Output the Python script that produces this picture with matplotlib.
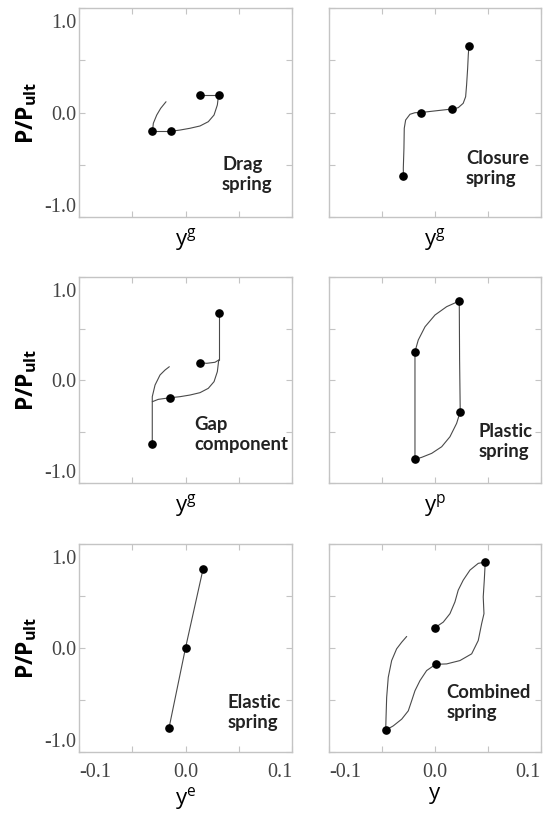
import matplotlib
matplotlib.use('Agg')
import matplotlib.pyplot as plt
import matplotlib.transforms as mtransforms

plt.rcParams['mathtext.fontset'] = 'custom'
plt.rcParams['mathtext.rm'] = 'Open Sans'
plt.rcParams['mathtext.it'] = 'Open Sans'
plt.rcParams['mathtext.bf'] = 'Open Sans:bold'

# ---------------- data ----------------
x_ticks = [-0.1, -0.05, 0.0, 0.05, 0.1]
x_tick_labels = ['-0.1', '', '0.0', '', '0.1']
y_ticks = [-1.0, -0.5, 0.0, 0.5, 1.0]
y_tick_labels = ['-1.0', '', '0.0', '', '1.0']

panel_names = ['Drag\nspring', 'Closure\nspring', 'Gap\ncomponent',
               'Plastic\nspring', 'Elastic\nspring', 'Combined\nspring']
x_labels = [r'$\mathrm{y^g}$', r'$\mathrm{y^g}$', r'$\mathrm{y^g}$',
            r'$\mathrm{y^p}$', r'$\mathrm{y^e}$', r'$\mathrm{y}$']
y_label = r'$\mathbf{P/P_{ult}}$'

# Drag spring
drag_pts_x = [-0.031, -0.014, 0.014, 0.031]
drag_pts_y = [-0.18, -0.18, 0.165, 0.165]
drag_c1_x = [-0.031, -0.014]
drag_c1_y = [-0.18, -0.18]
drag_c2_x = [0.014, 0.031]
drag_c2_y = [0.165, 0.165]
drag_c3_x = [-0.031, -0.0302, -0.027, -0.0233, -0.0183]
drag_c3_y = [-0.18, -0.103, -0.024, 0.040, 0.103]
drag_c4_x = [-0.014, -0.0052, 0.0042, 0.0136, 0.0214, 0.0268, 0.0299, 0.031]
drag_c4_y = [-0.18, -0.168, -0.151, -0.129, -0.088, -0.024, 0.072, 0.165]

# Closure spring
clos_pts_x = [-0.0298, -0.0132, 0.0157, 0.032]
clos_pts_y = [-0.605, 0.0, 0.033, 0.636]
clos_c1_x = [-0.0298, -0.0299, -0.0293, -0.029, -0.0277, -0.0236, -0.0189, -0.0132,
             0.0015, 0.0157, 0.0219, 0.0266, 0.0289, 0.0298, 0.0308, 0.0314, 0.032]
clos_c1_y = [-0.605, -0.534, -0.343, -0.151, -0.072, -0.017, -0.002, 0.0,
             0.017, 0.033, 0.046, 0.088, 0.151, 0.263, 0.423, 0.550, 0.636]

# Gap component
gap_pts_x = [-0.0312, -0.0143, 0.0139, 0.0312]
gap_pts_y = [-0.621, -0.172, 0.168, 0.648]
gap_c1_x = [-0.0312, -0.0312, -0.0312, -0.0286, -0.0239, -0.0192, -0.0152]
gap_c1_y = [-0.621, -0.211, -0.162, -0.049, 0.049, 0.097, 0.129]
gap_c2_x = [-0.0312, -0.0256, -0.0143]
gap_c2_y = [-0.211, -0.188, -0.172]
gap_c3_x = [-0.0143, -0.0052, 0.0042, 0.0136, 0.0214, 0.0268, 0.0299, 0.0312]
gap_c3_y = [-0.172, -0.162, -0.146, -0.123, -0.081, -0.016, 0.081, 0.194]
gap_c4_x = [0.0139, 0.0199, 0.0277, 0.0312]
gap_c4_y = [0.168, 0.162, 0.172, 0.194]
gap_c5_x = [0.0312, 0.0312]
gap_c5_y = [0.194, 0.648]

# Plastic spring
plas_pts_x = [-0.0189, 0.0229, 0.0238, -0.0189]
plas_pts_y = [0.275, 0.767, -0.308, -0.770]
plas_c1_x = [-0.0189, -0.0158, -0.0094, 0.0, 0.011, 0.0229, 0.0232, 0.0238,
             0.0204, 0.0141, 0.0063, -0.0031, -0.0126, -0.0189, -0.0189]
plas_c1_y = [0.275, 0.388, 0.517, 0.631, 0.712, 0.767, 0.2, -0.308,
             -0.421, -0.551, -0.648, -0.712, -0.751, -0.770, 0.275]

# Elastic spring
elas_pts_x = [-0.0155, 0.0, 0.0165]
elas_pts_y = [-0.77, 0.0, 0.76]

# Combined spring
comb_pts_x = [-0.0465, 0.0, 0.0006, 0.0474]
comb_pts_y = [-0.79, 0.195, -0.157, 0.826]
comb_c1_x = [-0.0465, -0.0462, -0.0456, -0.0441, -0.0409, -0.0362, -0.0314, -0.0267]
comb_c1_y = [-0.79, -0.669, -0.475, -0.282, -0.121, -0.008, 0.056, 0.111]
comb_c2_x = [-0.0465, -0.0394, -0.0314, -0.0252, -0.022, -0.0189, -0.0142, -0.0079, 0.0006]
comb_c2_y = [-0.79, -0.749, -0.684, -0.604, -0.507, -0.411, -0.314, -0.217, -0.157]
comb_c3_x = [0.0006, 0.011, 0.0235, 0.0346, 0.0408, 0.044, 0.0462, 0.0455, 0.0465, 0.0474]
comb_c3_y = [-0.157, -0.153, -0.121, -0.056, 0.072, 0.234, 0.330, 0.491, 0.652, 0.826]
comb_c4_x = [0.0, 0.0078, 0.0141, 0.0188, 0.0219, 0.0266, 0.033, 0.0408, 0.0474]
comb_c4_y = [0.195, 0.249, 0.330, 0.443, 0.556, 0.652, 0.749, 0.814, 0.826]

panels = [
    ([(drag_c1_x, drag_c1_y), (drag_c2_x, drag_c2_y), (drag_c3_x, drag_c3_y),
      (drag_c4_x, drag_c4_y)], (drag_pts_x, drag_pts_y)),
    ([(clos_c1_x, clos_c1_y)], (clos_pts_x, clos_pts_y)),
    ([(gap_c1_x, gap_c1_y), (gap_c2_x, gap_c2_y), (gap_c3_x, gap_c3_y),
      (gap_c4_x, gap_c4_y), (gap_c5_x, gap_c5_y)], (gap_pts_x, gap_pts_y)),
    ([(plas_c1_x, plas_c1_y)], (plas_pts_x, plas_pts_y)),
    ([(elas_pts_x, elas_pts_y)], (elas_pts_x, elas_pts_y)),
    ([(comb_c1_x, comb_c1_y), (comb_c2_x, comb_c2_y), (comb_c3_x, comb_c3_y),
      (comb_c4_x, comb_c4_y)], (comb_pts_x, comb_pts_y)),
]

# ---------------- layout ----------------
W, H = 544, 816
fig = plt.figure(figsize=(W / 100, H / 100), dpi=100)

col_px = [(79, 292), (329, 541)]
row_px = [(8, 217), (277, 483), (544, 752)]
text_pos = [(0.0343, -0.42), (0.0292, -0.36), (0.008, -0.35),
            (0.0412, -0.42), (0.0396, -0.44), (0.011, -0.35)]

label_font = ['Lato', 'Open Sans']
line_color = '#4a4a4a'
spine_color = '#c4c4c4'
tick_color = '#444444'

for i, (curves, pts) in enumerate(panels):
    r, c = divmod(i, 2)
    x0, x1 = col_px[c]
    y0, y1 = row_px[r]
    ax = fig.add_axes([x0 / W, 1 - y1 / H, (x1 - x0) / W, (y1 - y0) / H])
    for cx, cy in curves:
        ax.plot(cx, cy, color=line_color, lw=0.8, solid_capstyle='round')
    ax.plot(pts[0], pts[1], 'o', color='black', ms=5.2, zorder=5)

    ax.set_xlim(-0.1, 0.1)
    ax.set_ylim(-1.0, 1.0)
    ax.set_xticks(x_ticks)
    ax.set_yticks(y_ticks)
    for s in ax.spines.values():
        s.set_color(spine_color)
        s.set_linewidth(1.0)
    ax.tick_params(direction='in', length=4, width=0.8, color=spine_color,
                   top=True, right=True, labelcolor=tick_color)

    if c == 0:
        ax.set_yticklabels(y_tick_labels, family='Liberation Serif', fontsize=14.5)
        ax.tick_params(axis='y', pad=2)
        labs = ax.get_yticklabels()
        labs[0].set_va('bottom')
        labs[4].set_va('top')
        labs[4].set_transform(labs[4].get_transform() +
                              mtransforms.ScaledTranslation(0, -6 / 100, fig.dpi_scale_trans))
        ax.set_ylabel(y_label, fontsize=16.5, labelpad=4)
    else:
        ax.set_yticklabels([])

    if r == 2:
        ax.set_xticklabels(x_tick_labels, family='Liberation Serif', fontsize=14.5)
        ax.tick_params(axis='x', pad=8)
        labs = ax.get_xticklabels()
        labs[0].set_ha('left')
        labs[4].set_ha('right')
        ax.set_xlabel(x_labels[i], fontsize=16, labelpad=2)
    else:
        ax.set_xticklabels([])
        ax.set_xlabel(x_labels[i], fontsize=16, labelpad=3)

    tx, ty = text_pos[i]
    ax.text(tx, ty, panel_names[i], family=label_font, fontweight='bold',
            fontsize=13.3, color='#222222', ha='left', va='top', linespacing=1.2)

fig.savefig('out.png', dpi=100)
